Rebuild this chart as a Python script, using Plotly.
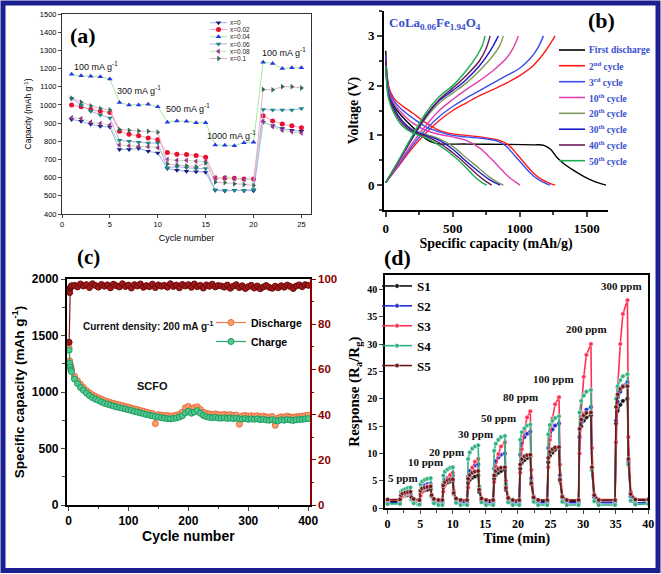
import plotly.graph_objects as go

W, H = 661, 574
def px(x): return x / W
def py(y): return 1 - y / H

SANS = "Liberation Sans"
SERIF = "Liberation Serif"

# ---------------- (a) rate capability ----------------
cycles_a = list(range(1, 26))
a_names = ["x=0", "x=0.02", "x=0.04", "x=0.06", "x=0.08", "x=0.1"]
a_x0 = [920, 910, 893, 882, 878, 755, 755, 760, 745, 735, 650, 640, 635, 632, 630,
        530, 527, 530, 528, 528, 905, 885, 870, 860, 855]
a_x002 = [1000, 990, 975, 965, 958, 855, 838, 830, 818, 808, 738, 728, 727, 722, 712,
          598, 598, 596, 592, 592, 940, 912, 895, 885, 875]
a_x004 = [1168, 1160, 1158, 1155, 1143, 1013, 1000, 1000, 1003, 990, 905, 912, 910, 902, 902,
          780, 778, 776, 792, 795, 1235, 1228, 1200, 1205, 1205]
a_x006 = [1035, 1000, 965, 945, 928, 805, 800, 795, 790, 790, 655, 660, 655, 650, 650,
          533, 530, 530, 530, 535, 975, 972, 972, 972, 980]
a_x008 = [930, 925, 905, 898, 890, 780, 775, 772, 770, 765, 700, 695, 695, 690, 688,
          598, 600, 595, 590, 590, 910, 880, 860, 852, 845]
a_x01 = [1037, 1015, 995, 980, 972, 865, 860, 857, 855, 850, 675, 670, 665, 660, 680,
         575, 572, 566, 562, 558, 1085, 1083, 1100, 1100, 1093]
a_series = [a_x0, a_x002, a_x004, a_x006, a_x008, a_x01]
a_marker_colors = ["#1a1a80", "#e8102a", "#2838e0", "#148a80", "#a03090", "#2e6e50"]
a_line_colors = ["#93b4ea", "#f3a0c8", "#a8e8a0", "#b4acec", "#b8e8a8", "#f0a8d0"]
a_symbols = ["triangle-down", "circle", "triangle-up", "triangle-down", "triangle-left", "triangle-right"]
a_rate_labels = ["100 mA g<sup>-1</sup>", "300 mA g<sup>-1</sup>", "500 mA g<sup>-1</sup>",
                 "1000 mA g<sup>-1</sup>", "100 mA g<sup>-1</sup>"]

# ---------------- (b) charge/discharge profiles ----------------
b_names = ["First discharge", "2<sup>nd</sup> cycle", "3<sup>rd</sup> cycle", "10<sup>th</sup> cycle",
           "20<sup>th</sup> cycle", "30<sup>th</sup> cycle", "40<sup>th</sup> cycle", "50<sup>th</sup> cycle"]
b_colors = ["#000000", "#ff1a1a", "#3a4ee8", "#e040b0", "#7f9a5c", "#1a1ac8", "#6a1a5a", "#1ab050"]
b_dis_cap = [
    [0, 10, 30, 60, 100, 150, 200, 250, 300, 350, 400, 600, 900, 1100, 1180, 1230, 1280, 1330, 1400, 1480, 1560, 1644],
    [0, 20, 60, 120, 200, 300, 400, 500, 600, 750, 850, 920, 980, 1040, 1100, 1160, 1220, 1264],
    [0, 20, 60, 120, 200, 300, 400, 500, 600, 750, 840, 900, 960, 1020, 1080, 1140, 1190, 1226],
    [0, 20, 60, 120, 200, 300, 400, 500, 600, 700, 780, 850, 920, 970, 1002],
    [0, 20, 60, 120, 200, 300, 400, 500, 600, 700, 780, 840, 878],
    [0, 20, 60, 120, 200, 300, 400, 500, 600, 700, 780, 853],
    [0, 20, 60, 120, 200, 300, 400, 500, 600, 680, 750, 791],
    [0, 20, 60, 120, 200, 300, 400, 500, 600, 660, 720, 754],
]
b_dis_v = [
    [2.7, 2.2, 1.85, 1.6, 1.45, 1.3, 1.17, 1.05, 0.93, 0.86, 0.83, 0.825, 0.82, 0.81, 0.8, 0.72, 0.55, 0.43, 0.3, 0.17, 0.07, 0.0],
    [2.6, 2.0, 1.75, 1.6, 1.45, 1.25, 1.1, 1.03, 1.0, 0.95, 0.9, 0.8, 0.62, 0.43, 0.25, 0.12, 0.04, 0.0],
    [2.6, 1.95, 1.7, 1.52, 1.35, 1.17, 1.07, 1.0, 0.97, 0.93, 0.88, 0.78, 0.6, 0.42, 0.24, 0.11, 0.04, 0.0],
    [2.5, 1.9, 1.65, 1.45, 1.25, 1.1, 1.02, 0.97, 0.9, 0.75, 0.55, 0.35, 0.16, 0.06, 0.0],
    [2.5, 1.85, 1.55, 1.3, 1.12, 1.02, 0.93, 0.78, 0.55, 0.33, 0.15, 0.05, 0.0],
    [2.5, 1.85, 1.55, 1.3, 1.1, 1.0, 0.9, 0.72, 0.48, 0.26, 0.1, 0.0],
    [2.5, 1.8, 1.5, 1.25, 1.07, 0.98, 0.85, 0.65, 0.42, 0.22, 0.07, 0.0],
    [2.4, 1.75, 1.45, 1.2, 1.05, 0.95, 0.8, 0.6, 0.35, 0.18, 0.05, 0.0],
]
b_chg_cap = [
    None,
    [0, 100, 200, 300, 400, 500, 600, 700, 800, 900, 1000, 1100, 1180, 1230, 1264],
    [0, 100, 200, 300, 400, 500, 600, 700, 800, 900, 1000, 1080, 1140, 1177],
    [0, 100, 200, 300, 400, 500, 600, 700, 800, 900, 950, 990],
    [0, 100, 200, 300, 400, 500, 600, 700, 800, 850, 878],
    [0, 100, 200, 300, 400, 500, 600, 700, 780, 841],
    [0, 100, 200, 300, 400, 500, 600, 700, 750, 779],
    [0, 100, 200, 300, 400, 500, 600, 680, 720, 741],
]
b_chg_v = [
    None,
    [0.05, 0.4, 0.75, 1.05, 1.3, 1.5, 1.65, 1.8, 1.92, 2.05, 2.2, 2.4, 2.65, 2.85, 3.0],
    [0.05, 0.42, 0.8, 1.12, 1.38, 1.58, 1.75, 1.9, 2.05, 2.2, 2.35, 2.55, 2.78, 3.0],
    [0.05, 0.45, 0.85, 1.2, 1.5, 1.72, 1.92, 2.1, 2.3, 2.55, 2.75, 3.0],
    [0.05, 0.5, 0.95, 1.35, 1.65, 1.85, 2.05, 2.3, 2.6, 2.8, 3.0],
    [0.05, 0.5, 0.95, 1.38, 1.7, 1.9, 2.12, 2.4, 2.7, 3.0],
    [0.05, 0.5, 0.97, 1.4, 1.72, 1.95, 2.2, 2.5, 2.75, 3.0],
    [0.05, 0.52, 1.0, 1.45, 1.78, 2.0, 2.3, 2.6, 2.8, 3.0],
]

# ---------------- (c) long cycling ----------------
cycles_c = [1, 2, 3, 4, 5] + list(range(10, 401, 5))
c_discharge = [1390, 1275, 1240, 1220, 1200,
               1140, 1100, 1068, 1040, 1012, 992, 975, 960, 948, 936,
               925, 916, 906, 900, 892, 886, 880, 872, 866, 858,
               850, 845, 836, 830, 822, 815, 810, 720, 800, 796,
               790, 792, 786, 790, 795, 802, 822, 860, 872, 852,
               862, 870, 846, 822, 812, 806, 800, 806, 800, 796,
               802, 796, 800, 792, 796, 715, 788, 793, 786, 790,
               786, 790, 782, 786, 780, 778, 783, 705, 770, 781,
               778, 786, 780, 776, 781, 783, 786, 790,
               795]
c_charge = [1370, 1255, 1220, 1195, 1180,
            1115, 1075, 1040, 1015, 990, 968, 950, 936, 925, 912,
            900, 892, 884, 876, 868, 862, 856, 850, 842, 836,
            828, 822, 815, 808, 800, 795, 790, 784, 778, 772,
            768, 764, 762, 766, 770, 778, 790, 815, 830, 812,
            822, 835, 812, 792, 782, 776, 772, 776, 770, 768,
            772, 766, 770, 764, 768, 762, 760, 765, 758, 762,
            758, 762, 755, 758, 752, 750, 756, 748, 745, 754,
            750, 756, 752, 748, 754, 756, 758, 762,
            765]
c_ce = [72, 94, 96, 96.5, 97,
        97.2, 96.5, 97.8, 96.9, 97.5, 96.2, 97.9, 97.1, 96.4, 97.6,
        96.8, 97.4, 96.1, 97.7, 97.0, 96.5, 97.9, 96.7, 97.3, 96.0,
        97.5, 96.9, 97.8, 96.3, 97.1, 96.6, 97.7, 96.2, 97.4, 96.8,
        97.2, 96.4, 97.9, 96.7, 97.3, 96.1, 97.6, 96.9, 97.5, 96.3,
        97.8, 96.6, 97.2, 96.0, 97.4, 96.8, 97.7, 96.5, 97.1, 96.9,
        96.4, 97.3, 95.9, 96.8, 97.5, 96.2, 97.0, 95.8, 96.6, 97.2,
        96.0, 96.9, 95.7, 96.5, 97.1, 96.3, 95.9, 96.8, 96.1, 97.0,
        96.4, 97.3, 96.7, 95.8, 96.9, 97.4, 96.6, 97.5,
        97.2]

# ---------------- (d) gas response ----------------
t_d = [0.0,
       1.9, 2.05, 2.3, 2.7, 3.1, 3.5, 3.65, 4.0, 4.7,
       4.9, 5.05, 5.3, 5.7, 6.1, 6.6, 6.75, 7.1, 7.8,
       8.4, 8.55, 8.8, 9.2, 9.6, 10.0, 10.15, 10.5, 11.2,
       12.2, 12.35, 12.6, 13.0, 13.4, 13.9, 14.05, 14.4, 15.1,
       16.2, 16.35, 16.6, 17.0, 17.4, 18.0, 18.15, 18.5, 19.2,
       20.2, 20.35, 20.6, 21.0, 21.4, 21.9, 22.05, 22.4, 23.1,
       24.5, 24.65, 24.9, 25.3, 25.7, 26.3, 26.45, 26.8, 27.5,
       29.3, 29.45, 29.7, 30.1, 30.5, 31.2, 31.35, 31.7, 32.4,
       34.9, 35.05, 35.3, 35.7, 36.1, 36.8, 36.95, 37.3, 38.0,
       40.0]
d_S1 = [1.2,
        1.2, 2.0, 2.2, 2.35, 2.45, 2.5, 1.7, 1.35, 1.2,
        1.2, 2.8, 3.1, 3.3, 3.4, 3.5, 2.1, 1.45, 1.2,
        1.2, 3.9, 4.4, 4.7, 4.9, 5.0, 2.6, 1.5, 1.2,
        1.2, 4.6, 5.2, 5.6, 5.8, 6.0, 3.0, 1.6, 1.2,
        1.2, 5.4, 6.1, 6.5, 6.8, 7.0, 3.4, 1.7, 1.2,
        1.2, 7.2, 8.3, 8.8, 9.2, 9.5, 4.4, 1.9, 1.3,
        1.3, 8.4, 9.6, 10.2, 10.7, 11.0, 5.0, 2.1, 1.3,
        1.3, 13.0, 15.0, 16.0, 16.6, 17.0, 7.0, 2.4, 1.4,
        1.4, 15.5, 17.8, 18.9, 19.6, 20.0, 8.2, 2.6, 1.5,
        1.4]
d_S2 = [1.0,
        1.0, 2.0, 2.4, 2.6, 2.7, 2.8, 1.6, 1.2, 1.0,
        1.0, 3.2, 3.8, 4.2, 4.4, 4.5, 2.3, 1.3, 1.0,
        1.0, 4.4, 5.2, 5.6, 5.9, 6.0, 2.8, 1.4, 1.0,
        1.0, 5.8, 6.8, 7.4, 7.8, 8.0, 3.6, 1.5, 1.0,
        1.0, 7.2, 8.6, 9.3, 9.8, 10.0, 4.2, 1.6, 1.0,
        1.0, 9.8, 12.0, 13.0, 13.6, 14.0, 5.5, 1.8, 1.0,
        1.0, 11.0, 13.2, 14.4, 15.1, 15.5, 6.0, 1.9, 1.0,
        1.0, 13.0, 15.8, 17.2, 18.0, 18.5, 7.0, 2.0, 1.0,
        1.0, 16.0, 19.5, 21.3, 22.4, 23.0, 8.5, 2.2, 1.0,
        1.0]
d_S3 = [1.5,
        1.5, 1.9, 2.3, 2.6, 2.85, 3.0, 1.9, 1.6, 1.5,
        1.5, 2.3, 3.0, 3.6, 4.0, 4.2, 2.4, 1.7, 1.5,
        1.5, 3.0, 4.3, 5.4, 6.1, 6.5, 3.2, 1.8, 1.5,
        1.5, 3.8, 5.8, 7.4, 8.5, 9.0, 4.0, 1.9, 1.5,
        1.5, 4.8, 7.6, 9.9, 11.3, 12.0, 5.0, 2.0, 1.5,
        1.5, 6.5, 10.8, 14.3, 16.6, 17.7, 7.0, 2.2, 1.5,
        1.5, 7.5, 12.5, 16.4, 19.0, 20.3, 8.0, 2.3, 1.5,
        1.5, 10.0, 17.5, 24.0, 28.0, 30.0, 11.0, 2.6, 1.6,
        1.6, 12.0, 22.0, 30.0, 35.5, 38.0, 13.0, 3.0, 1.7,
        1.6]
d_S4 = [0.8,
        0.8, 3.0, 3.3, 3.5, 3.7, 3.8, 1.6, 0.9, 0.7,
        0.7, 4.4, 4.9, 5.2, 5.4, 5.5, 2.2, 0.9, 0.6,
        0.6, 6.0, 6.7, 7.1, 7.4, 7.5, 2.8, 1.0, 0.6,
        0.6, 9.0, 10.2, 10.9, 11.3, 11.5, 4.0, 1.1, 0.6,
        0.6, 10.5, 11.8, 12.5, 13.0, 13.2, 4.5, 1.1, 0.6,
        0.6, 12.5, 13.9, 14.6, 15.1, 15.3, 5.0, 1.2, 0.6,
        0.6, 13.5, 15.2, 16.0, 16.5, 16.8, 5.5, 1.2, 0.6,
        0.6, 17.5, 19.6, 20.6, 21.3, 21.6, 7.0, 1.3, 0.6,
        0.6, 20.0, 22.3, 23.4, 24.1, 24.5, 8.0, 1.4, 0.7,
        0.8]
d_S5 = [1.6,
        1.6, 2.4, 2.7, 2.85, 2.95, 3.0, 2.0, 1.7, 1.5,
        1.5, 3.2, 3.6, 3.8, 3.9, 4.0, 2.4, 1.7, 1.5,
        1.5, 4.2, 4.8, 5.1, 5.25, 5.3, 2.8, 1.8, 1.5,
        1.5, 5.4, 6.1, 6.5, 6.7, 6.8, 3.4, 1.8, 1.5,
        1.5, 6.0, 6.8, 7.2, 7.4, 7.5, 3.7, 1.9, 1.5,
        1.5, 8.0, 9.0, 9.5, 9.7, 9.8, 4.6, 2.0, 1.5,
        1.5, 9.2, 10.3, 10.8, 11.1, 11.2, 5.2, 2.1, 1.5,
        1.5, 14.5, 16.2, 17.0, 17.4, 17.5, 7.5, 2.4, 1.5,
        1.5, 18.5, 20.8, 21.8, 22.2, 22.3, 9.0, 2.6, 1.6,
        1.6]
d_names = ["S1", "S2", "S3", "S4", "S5"]
d_series = [d_S1, d_S2, d_S3, d_S4, d_S5]
d_colors = ["#111111", "#2030d0", "#ff3050", "#30b080", "#701818"]
d_ppm = ["5 ppm", "10 ppm", "20 ppm", "30 ppm", "50 ppm", "80 ppm", "100 ppm", "200 ppm", "300 ppm"]

fig = go.Figure()

# (a) traces
for name, ys, mc, lc, sym in zip(a_names, a_series, a_marker_colors, a_line_colors, a_symbols):
    fig.add_trace(go.Scatter(x=cycles_a, y=ys, mode="lines+markers", name=name,
                             line=dict(color=lc, width=1),
                             marker=dict(color=mc, symbol=sym, size=5),
                             xaxis="x", yaxis="y", showlegend=False))

# (b) traces
for i, (name, col) in enumerate(zip(b_names, b_colors)):
    fig.add_trace(go.Scatter(x=b_dis_cap[i], y=b_dis_v[i], mode="lines", line=dict(color=col, width=1.4, shape="spline"),
                             xaxis="x2", yaxis="y2", showlegend=False, name=name))
    if b_chg_cap[i] is not None:
        fig.add_trace(go.Scatter(x=b_chg_cap[i], y=b_chg_v[i], mode="lines", line=dict(color=col, width=1.4, shape="spline"),
                                 xaxis="x2", yaxis="y2", showlegend=False, name=name))

# (c) traces
fig.add_trace(go.Scatter(x=cycles_c, y=c_discharge, mode="lines+markers", name="Discharge",
                         line=dict(color="#f07a48", width=1.2),
                         marker=dict(color="#f7a070", size=6, line=dict(color="#e8683a", width=1)),
                         xaxis="x3", yaxis="y3", legend="legend"))
fig.add_trace(go.Scatter(x=cycles_c, y=c_charge, mode="lines+markers", name="Charge",
                         line=dict(color="#2aa86a", width=1.2),
                         marker=dict(color="#50c890", size=6, line=dict(color="#1e9a60", width=1)),
                         xaxis="x3", yaxis="y3", legend="legend"))
fig.add_trace(go.Scatter(x=cycles_c, y=c_ce, mode="lines+markers", name="Coulombic efficiency",
                         line=dict(color="#8b1010", width=1.2),
                         marker=dict(color="#a01818", size=6, line=dict(color="#6a0a0a", width=1)),
                         xaxis="x3", yaxis="y6", showlegend=False))

# (d) traces
for name, ys, col in zip(d_names, d_series, d_colors):
    fig.add_trace(go.Scatter(x=t_d, y=ys, mode="lines+markers", name=name,
                             line=dict(color=col, width=1.6),
                             marker=dict(color=col, size=4.5, line=dict(color="white", width=0.5)),
                             xaxis="x4", yaxis="y4", legend="legend2"))

# manual legend for (a) on overlay pixel axis
a_leg_y = [22.7, 29.5, 36.8, 44.0, 51.3, 58.5]
for name, mc, lc, sym, yy in zip(a_names, a_marker_colors, a_line_colors, a_symbols, a_leg_y):
    fig.add_trace(go.Scatter(x=[210, 227], y=[yy, yy], mode="lines", line=dict(color=lc, width=1),
                             xaxis="x5", yaxis="y5", showlegend=False, hoverinfo="skip"))
    fig.add_trace(go.Scatter(x=[218.5], y=[yy], mode="markers", marker=dict(color=mc, symbol=sym, size=5),
                             xaxis="x5", yaxis="y5", showlegend=False, hoverinfo="skip"))

annotations = []
shapes = []

def ann(text, x, y, size, family=SANS, bold=False, color="black", xanchor="center"):
    annotations.append(dict(text=text, x=x, y=y, xref="x5", yref="y5", showarrow=False,
                            xanchor=xanchor, yanchor="middle",
                            font=dict(family=family, size=size, color=color,
                                      weight="bold" if bold else "normal")))

for name, yy in zip(a_names, a_leg_y):
    ann(name, 228, yy, 6.5, xanchor="left", color="#222")

# (a) text
ann("(a)", 83, 35, 22, SERIF, True)
for lab, (x, y) in zip(a_rate_labels, [(96, 66), (139, 90), (188, 108), (231, 135), (284, 52)]):
    ann(lab, x, y, 9, SANS, False, "#111")

# (b) text & legend
ann("(b)", 601, 20, 22, SERIF, True)
ann("CoLa<sub>0.06</sub>Fe<sub>1.94</sub>O<sub>4</sub>", 387, 23, 13, SERIF, True, "#3a4ed0", "left")
b_leg_y = [50, 65.7, 81.7, 97.5, 113.3, 129.2, 145, 160.7]
for name, col, yy in zip(b_names, b_colors, b_leg_y):
    shapes.append(dict(type="line", xref="x5", yref="y5", x0=559, x1=585, y0=yy, y1=yy,
                       line=dict(color=col, width=1.6)))
    ann(name, 587, yy, 9.5, SERIF, True, "#3a4ed0", "left")

# (c) text
ann("(c)", 88, 257, 21, SERIF, True)
ann("Current density: 200 mA g<sup>-1</sup>", 148, 326, 10, SANS, True, "#111")
ann("SCFO", 152, 386, 11, SANS, True, "#111")

# (d) text
ann("(d)", 397, 257, 22, SERIF, True)
for lab, (x, y) in zip(d_ppm, [(403, 478), (425, 462), (446, 452), (475, 434), (498, 418),
                               (520, 397), (553, 379), (586, 329), (621, 286)]):
    ann(lab, x, y, 11, SERIF, True, "#111")

# border
shapes.append(dict(type="rect", xref="paper", yref="paper", x0=px(3), x1=px(658), y0=py(570.5), y1=py(3),
                   line=dict(color="#1c2090", width=5)))

def tf(fam, size, bold=False, color="black"):
    return dict(family=fam, size=size, color=color, weight="bold" if bold else "normal")

fig.update_layout(
    width=W, height=H, margin=dict(l=0, r=0, t=0, b=0, autoexpand=False),
    paper_bgcolor="white", plot_bgcolor="rgba(0,0,0,0)",
    annotations=annotations, shapes=shapes,
    xaxis=dict(domain=[px(62), px(311)], anchor="y", range=[0, 26], tickvals=[0, 5, 10, 15, 20, 25],
               showline=True, linecolor="#333", linewidth=1, mirror=True, ticks="outside", ticklen=3,
               showgrid=False, zeroline=False, tickfont=tf(SANS, 7.5), automargin=False,
               title=dict(text="Cycle number", font=tf(SANS, 9), standoff=6)),
    yaxis=dict(domain=[py(214), py(14)], anchor="x", range=[400, 1500], dtick=100,
               showline=True, linecolor="#333", linewidth=1, mirror=True, ticks="outside", ticklen=3,
               showgrid=False, zeroline=False, tickfont=tf(SANS, 7.5), automargin=False,
               title=dict(text="Capacity (mAh g<sup>-1</sup>)", font=tf(SANS, 8.5), standoff=6)),
    xaxis2=dict(domain=[px(384), px(608)], anchor="y2", range=[-13, 1659], tickvals=[0, 500, 1000, 1500],
                showline=True, linecolor="black", linewidth=2, ticks="outside", ticklen=5, tickwidth=2,
                minor=dict(dtick=250, ticklen=3, tickwidth=1.5, ticks="outside"), automargin=False,
                showgrid=False, zeroline=False, tickfont=tf(SERIF, 13, True),
                title=dict(text="Specific capacity (mAh/g)", font=tf(SERIF, 14, True), standoff=2)),
    yaxis2=dict(domain=[py(210), py(11)], anchor="x2", range=[-0.5, 3.5], tickvals=[0, 1, 2, 3],
                showline=True, linecolor="black", linewidth=2, ticks="outside", ticklen=5, tickwidth=2,
                minor=dict(dtick=0.5, ticklen=3, tickwidth=1.5, ticks="outside"), automargin=False,
                showgrid=False, zeroline=False, tickfont=tf(SERIF, 13, True),
                title=dict(text="Voltage (V)", font=tf(SERIF, 14, True), standoff=6)),
    xaxis3=dict(domain=[px(66.7), px(310)], anchor="y3", range=[-3, 403], dtick=100,
                showline=True, linecolor="black", linewidth=1.5, mirror=True, ticks="outside", ticklen=4,
                minor=dict(dtick=50, ticklen=2.5, ticks="outside"), automargin=False,
                showgrid=False, zeroline=False, tickfont=tf(SANS, 12, True),
                title=dict(text="Cycle number", font=tf(SANS, 14, True), standoff=2)),
    yaxis3=dict(domain=[py(505), py(279)], anchor="x3", range=[0, 2000], dtick=500,
                showline=True, linecolor="black", linewidth=1.5, ticks="outside", ticklen=4,
                minor=dict(dtick=250, ticklen=2.5, ticks="outside"), automargin=False,
                showgrid=False, zeroline=False, tickfont=tf(SANS, 12, True),
                title=dict(text="Specific capacity (mAh g<sup>-1</sup>)", font=tf(SANS, 13.5, True), standoff=4)),
    yaxis6=dict(overlaying="y3", anchor="x3", side="right", range=[0, 100], dtick=20,
                showline=True, linecolor="#8b0000", linewidth=1.5, ticks="outside", ticklen=4, automargin=False,
                tickcolor="#8b0000", minor=dict(dtick=10, ticklen=2.5, ticks="outside", tickcolor="#8b0000"),
                showgrid=False, zeroline=False, tickfont=tf(SANS, 11.5, True, "#8b0000")),
    xaxis4=dict(domain=[px(385), px(648.3)], anchor="y4", range=[-0.4, 40], dtick=5,
                showline=True, linecolor="black", linewidth=1.5, mirror=True, ticks="outside", ticklen=4,
                minor=dict(dtick=2.5, ticklen=2.5, ticks="outside"), automargin=False,
                showgrid=False, zeroline=False, tickfont=tf(SERIF, 12, True),
                title=dict(text="Time (min)", font=tf(SERIF, 14, True), standoff=2)),
    yaxis4=dict(domain=[py(508.3), py(275)], anchor="x4", range=[0, 42.6], dtick=5,
                showline=True, linecolor="black", linewidth=1.5, mirror=True, ticks="outside", ticklen=4,
                showgrid=False, zeroline=False, tickfont=tf(SERIF, 10, True), automargin=False,
                title=dict(text="Response (R<sub>a</sub>/R<sub>g</sub>)", font=tf(SERIF, 15, True), standoff=4)),
    xaxis5=dict(domain=[0, 1], anchor="y5", range=[0, W], visible=False, fixedrange=True, automargin=False),
    yaxis5=dict(domain=[0, 1], anchor="x5", range=[H, 0], visible=False, fixedrange=True, automargin=False),
    legend=dict(x=px(211), y=py(308), xanchor="left", yanchor="top", bgcolor="rgba(0,0,0,0)",
                font=tf(SANS, 10.5, True), itemwidth=30, tracegroupgap=0),
    legend2=dict(x=px(377), y=py(271), xanchor="left", yanchor="top", bgcolor="rgba(0,0,0,0)",
                 font=tf(SERIF, 13, True), itemwidth=30, tracegroupgap=0),
)

fig.write_html("out.html", config={"displayModeBar": False},
               post_script="document.body.style.margin='0px';document.body.style.overflow='hidden';")
